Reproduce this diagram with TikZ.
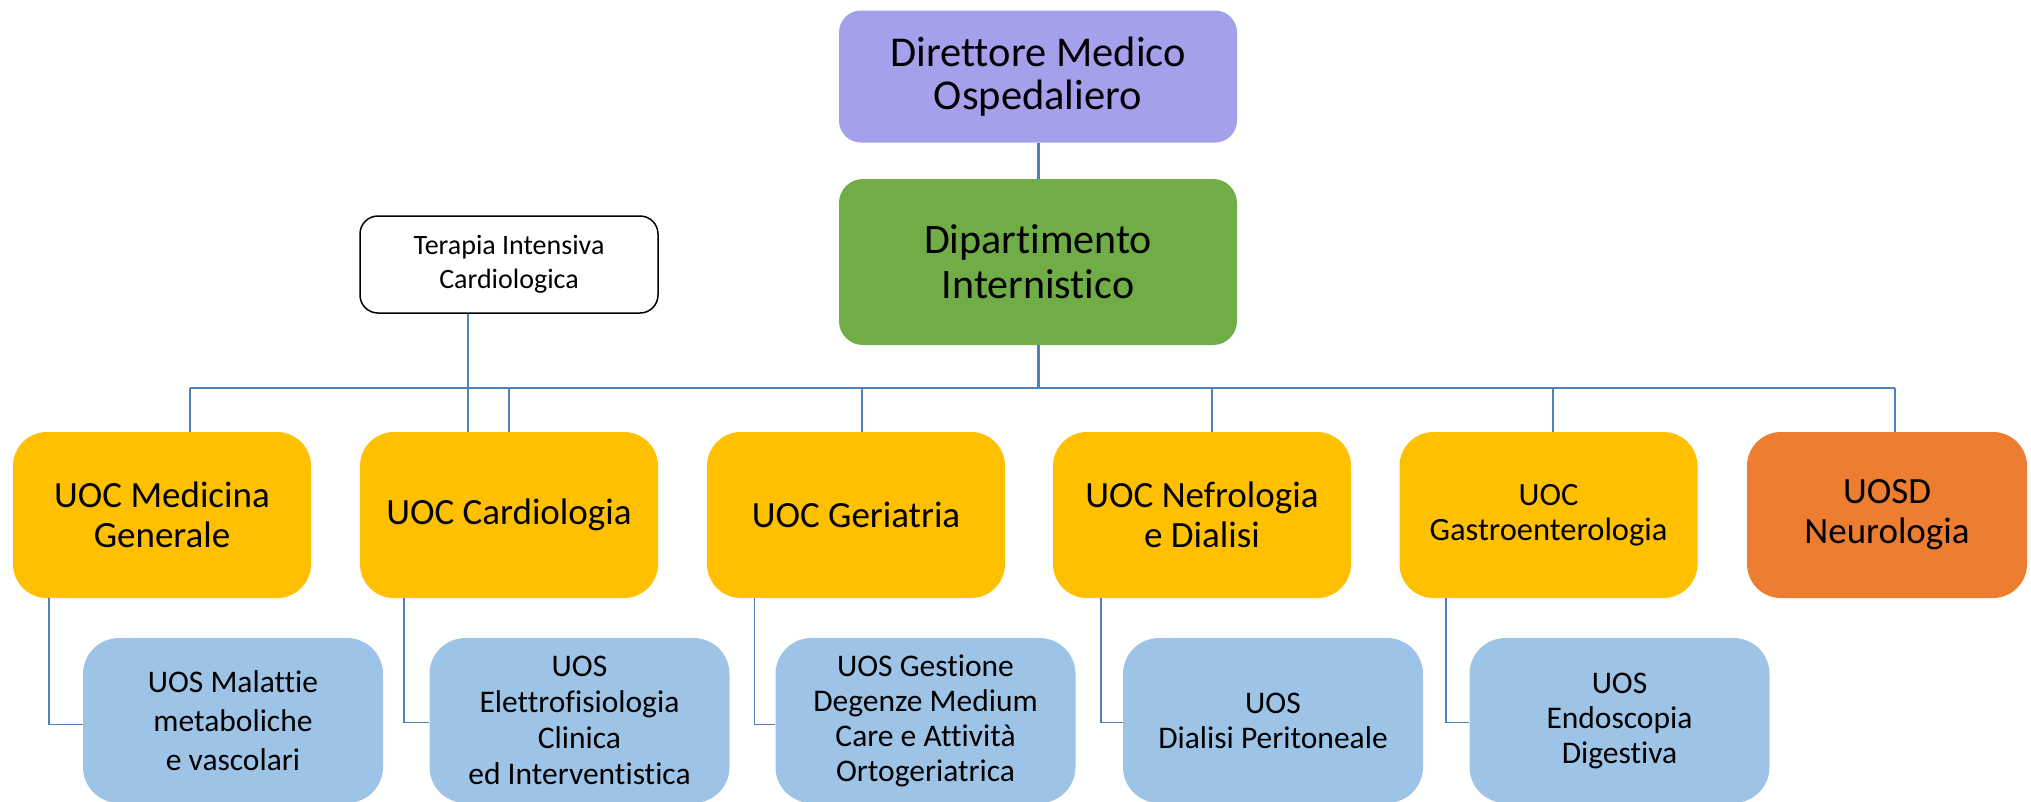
\documentclass[tikz,border=0pt]{standalone}
\usepackage{fontspec}
\setmainfont{Carlito}[Ligatures=CommonOff]
\usetikzlibrary{calc}
\definecolor{lav}{RGB}{165,160,236}
\definecolor{grn}{RGB}{112,173,71}
\definecolor{yel}{RGB}{255,192,0}
\definecolor{org}{RGB}{237,125,49}
\definecolor{lblu}{RGB}{157,195,230}
\definecolor{lnk}{RGB}{79,129,189}
\tikzset{
  base/.style={align=center, inner sep=0pt, text=black},
  topbox/.style={base, minimum width=398pt, rounded corners=24pt},
  uocbox/.style={base, fill=yel, minimum width=298pt, minimum height=166pt, rounded corners=34pt, font=\fontsize{37}{40}\selectfont},
  uosbox/.style={base, fill=lblu, minimum width=300pt, minimum height=165pt, rounded corners=36pt, font=\fontsize{31.5}{36}\selectfont},
  conn/.style={draw=lnk, line width=1.5pt},
  thick conn/.style={draw=lnk, line width=3pt}
}
\begin{document}
\begin{tikzpicture}[x=1pt,y=-1pt]
\useasboundingbox (0,0) rectangle (2031,801);
\fill[white] (0,0) rectangle (2031,801);
% top
\node[topbox, fill=lav, minimum height=132pt, rounded corners=22pt, font=\fontsize{42.5}{43}\selectfont] (dir) at (1038,76.5) {Direttore Medico\\Ospedaliero};
\node[topbox, fill=grn, minimum height=166pt, font=\fontsize{42}{45}\selectfont] (dip) at (1038,262) {Dipartimento\\Internistico};
\node[base, draw=black, line width=1.5pt, fill=white, minimum width=298pt, minimum height=97pt, rounded corners=18pt, font=\fontsize{28}{34}\selectfont] (tic) at (509,264.5) {Terapia Intensiva\\Cardiologica};
% UOC row
\node[uocbox] (med) at (162,515) {UOC Medicina\\Generale};
\node[uocbox] (car) at (509,515) {UOC Cardiologia};
\node[uocbox] (ger) at (856,515) {UOC Geriatria};
\node[uocbox] (nef) at (1202,515) {UOC Nefrologia\\e Dialisi};
\node[uocbox, font=\fontsize{32.5}{35}\selectfont] (gas) at (1548.5,515) {UOC\\Gastroenterologia};
\node[uocbox, fill=org, minimum width=280pt] (neu) at (1887,515) {UOSD\\Neurologia};
% UOS row
\node[uosbox, font=\fontsize{31.5}{39}\selectfont] (mal) at (233,720.5) {UOS Malattie\\metaboliche\\e vascolari};
\node[uosbox] (ele) at (579.5,720.5) {UOS\\Elettrofisiologia\\Clinica\\ed Interventistica};
\node[uosbox, font=\fontsize{31.5}{35}\selectfont] (ges) at (925.5,720.5) {UOS Gestione\\Degenze Medium\\Care e Attività\\Ortogeriatrica};
\node[uosbox, font=\fontsize{31.5}{35}\selectfont] (dia) at (1273,720.5) {UOS\\Dialisi Peritoneale};
\node[uosbox, font=\fontsize{31.5}{35}\selectfont] (end) at (1619.5,720.5) {UOS\\Endoscopia\\Digestiva};
% bus
\coordinate (busL) at (190,388);
\coordinate (busR) at (1895,388);
\coordinate (bcar) at (509,388);
\coordinate (bger) at (862,388);
\coordinate (bnef) at (1212,388);
\coordinate (bgas) at (1553,388);
\draw[thick conn] (dir.south) -- (dip.north);
\draw[thick conn] (dip.south) -- (dip.south |- busL);
\draw[conn] (busL) -- (busR);
\draw[conn] (busL) -- (busL |- med.north);
\draw[conn] (bcar) -- (bcar |- car.north);
\draw[conn] (bger) -- (bger |- ger.north);
\draw[conn] (bnef) -- (bnef |- nef.north);
\draw[conn] (bgas) -- (bgas |- gas.north);
\draw[conn] (busR) -- (busR |- neu.north);
\draw[conn] ($(tic.south)+(-41,0)$) -- ($(car.north)+(-41,0)$);
% UOC to UOS
\draw[conn] ($(med.south)+(-113,0)$) |- ($(mal.west)+(0,4)$);
\draw[conn] ($(car.south)+(-105,0)$) |- ($(ele.west)+(0,2)$);
\draw[conn] ($(ger.south)+(-101.5,0)$) |- ($(ges.west)+(0,4)$);
\draw[conn] ($(nef.south)+(-101,0)$) |- ($(dia.west)+(0,2)$);
\draw[conn] ($(gas.south)+(-102.5,0)$) |- ($(end.west)+(0,2)$);
\end{tikzpicture}
\end{document}
